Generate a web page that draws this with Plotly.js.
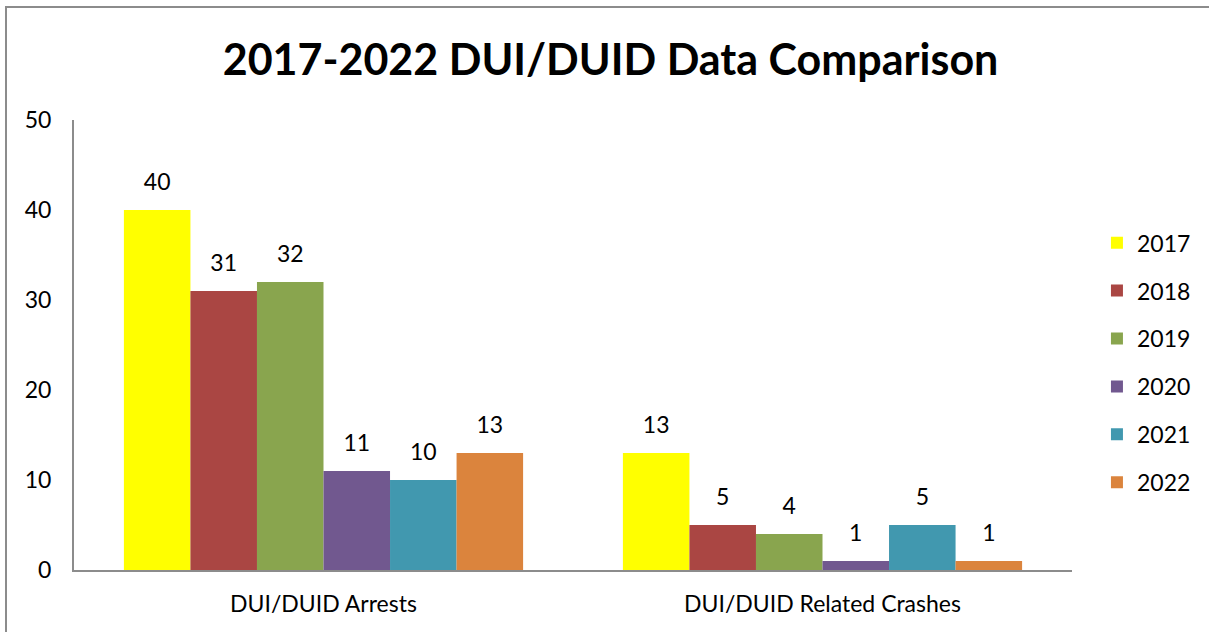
<!DOCTYPE html>
<html><head><meta charset="utf-8">
<script src="https://cdn.plot.ly/plotly-3.0.1.min.js"></script>
<style>
html,body{margin:0;padding:0;background:#fff;}
#wrap{position:relative;width:1209px;height:632px;overflow:hidden;}
#chart{width:1209px;height:632px;}
#frame{position:absolute;left:5px;top:6px;width:2000px;height:2000px;border-left:2px solid #8c8c8c;border-top:2px solid #8c8c8c;pointer-events:none;}
</style></head>
<body><div id="wrap"><div id="chart"></div><div id="frame"></div></div>
<script>
const categories = ["DUI/DUID Arrests", "DUI/DUID Related Crashes"];
const years = ["2017", "2018", "2019", "2020", "2021", "2022"];
const values2017 = [40, 13];
const values2018 = [31, 5];
const values2019 = [32, 4];
const values2020 = [11, 1];
const values2021 = [10, 5];
const values2022 = [13, 1];
const colors = ["#FFFF00", "#AA4643", "#89A54E", "#71588F", "#4198AF", "#DB843D"];
const series = [values2017, values2018, values2019, values2020, values2021, values2022];
const FONT = "Lato, 'Liberation Sans', sans-serif";
const FS = 23;

const bars = series.map((v, i) => ({
  type: "bar",
  name: years[i],
  x: categories,
  y: v,
  marker: {color: colors[i]},
  legendgroup: "g" + i,
  hoverinfo: "x+y+name"
}));
const labels = series.map((v, i) => ({
  type: "scatter",
  mode: "markers+text",
  name: years[i] + " labels",
  x: categories,
  y: v,
  text: v.map(String),
  textposition: "top center",
  textfont: {size: FS, color: "#000", family: FONT},
  marker: {size: 22, color: "rgba(0,0,0,0)"},
  cliponaxis: false,
  showlegend: false,
  hoverinfo: "skip"
}));

const layout = {
  width: 1209, height: 632,
  margin: {l: 74, r: 137, t: 120, b: 62, autoexpand: false},
  paper_bgcolor: "#fff", plot_bgcolor: "#fff",
  font: {family: FONT, size: FS, color: "#000"},
  title: {text: "<b>2017-2022 DUI/DUID Data Comparison</b>", font: {size: 43, family: FONT, color: "#000"}, x: 0.505, xanchor: "center", y: 0.905, yanchor: "middle"},
  barmode: "group",
  bargap: 0.2,
  bargroupgap: 0,
  scattermode: "group",
  scattergap: 0.2,
  xaxis: {showline: true, linecolor: "#8c8c8c", linewidth: 2, ticks: "", showgrid: false, zeroline: false, tickfont: {size: FS}, ticklabelstandoff: 12, fixedrange: true},
  yaxis: {range: [0, 50], dtick: 10, showline: true, linecolor: "#8c8c8c", linewidth: 2, ticks: "", showgrid: false, zeroline: false, tickfont: {size: FS}, ticklabelstandoff: 16, fixedrange: true},
  legend: {x: 1.025, xanchor: "left", y: 0.775, yanchor: "top", font: {size: FS}, tracegroupgap: 15, itemwidth: 30, bgcolor: "rgba(0,0,0,0)"},
  showlegend: true
};
Plotly.newPlot("chart", bars.concat(labels), layout, {displayModeBar: false, staticPlot: true});
</script></body></html>
